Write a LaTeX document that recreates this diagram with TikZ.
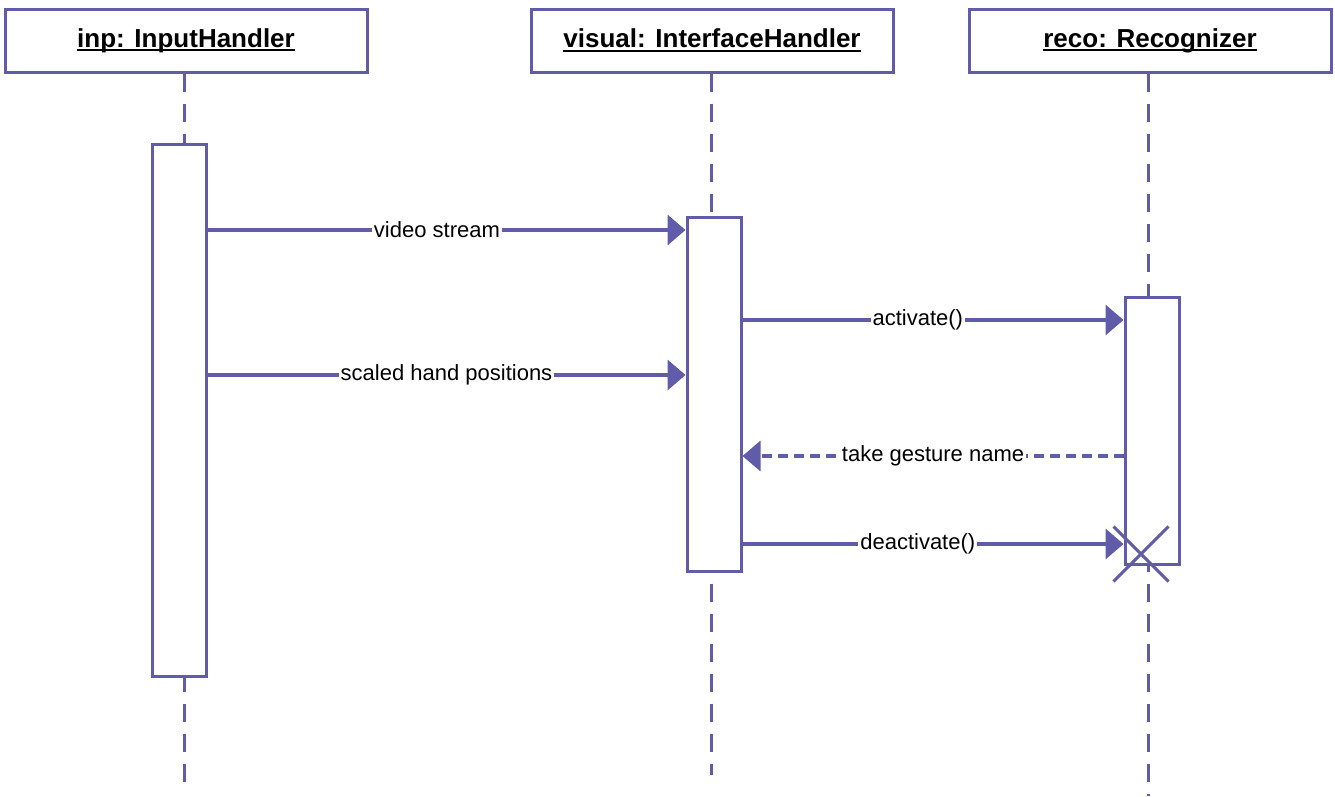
\documentclass[tikz,border=0pt]{standalone}
\usepackage{fontspec}
\setmainfont{Liberation Sans}
\usetikzlibrary{
	positioning
	,arrows.meta
	,shapes.misc
}
\definecolor{umlblue}{RGB}{96,92,170}
\newcommand{\objname}[1]{%
	\setbox0\hbox{#1}\rlap{\rule[-4pt]{\wd0}{2pt}}\box0%
}
\tikzset{
	object/.style={
		draw=umlblue
		,line width=3pt
		,fill=white
		,minimum width=362pt
		,minimum height=63pt
		,font=\fontsize{26}{30}\selectfont\bfseries
	},
	activation/.style={
		draw=umlblue
		,line width=3pt
		,fill=white
		,minimum width=54pt
		,inner sep=0pt
		,anchor=north
	},
	lifeline/.style={
		umlblue
		,line width=3pt
		,dash pattern=on 18pt off 12pt
	},
	msg/.style={
		umlblue
		,line width=3.5pt
		,-{Triangle[length=18pt,width=30pt]}
	},
	reply/.style={
		msg
		,dash pattern=on 10pt off 6pt
	},
	msglabel/.style={
		fill=white
		,text=black
		,inner sep=2pt
		,font=\fontsize{22}{26}\selectfont
	}
}

\begin{document}
\begin{tikzpicture}[x=1pt,y=-1pt]
	\useasboundingbox[fill=white] (0,0) rectangle (1335,796);

	% objects
	\node[object] (inp) at (186,40.5) {\objname{inp: InputHandler}};
	\node[object] (visual) at (712,40.5) {\objname{visual: InterfaceHandler}};
	\node[object] (reco) at (1150,40.5) {\objname{reco: Recognizer}};

	% lifelines
	\coordinate (inpEnd) at (184,785);
	\coordinate (visualEnd) at (711,775);
	\coordinate (recoEnd) at (1148,796);
	\foreach \o in {inp,visual,reco}{
		\draw[lifeline] (\o.south -| \o End) -- (\o End);
	}

	% activations
	\node[activation, minimum height=532pt] (inpAct) at (179,143) {};
	\node[activation, minimum height=354pt] (visualAct) at (714,216) {};
	\node[activation, minimum height=267pt] (recoAct) at (1152,296) {};

	% messages
	\draw[msg] (inpAct.east |- 0,230) -- node[msglabel, pos=0.48]{video stream} (visualAct.west |- 0,230);
	\draw[msg] (inpAct.east |- 0,375) -- node[msglabel]{scaled hand positions} (visualAct.west |- 0,375);
	\draw[msg] (visualAct.east |- 0,320) -- node[msglabel, pos=0.46]{activate()} (recoAct.west |- 0,320);
	\draw[reply] (recoAct.west |- 0,456) -- node[msglabel]{take gesture name} (visualAct.east |- 0,456);
	\draw[msg] (visualAct.east |- 0,544) -- node[msglabel, pos=0.46]{deactivate()} (recoAct.west |- 0,544);

	% destruction
	\node[cross out, draw=umlblue, line width=3pt, minimum size=52pt] (recoStop) at (1141,554) {};
\end{tikzpicture}
\end{document}
